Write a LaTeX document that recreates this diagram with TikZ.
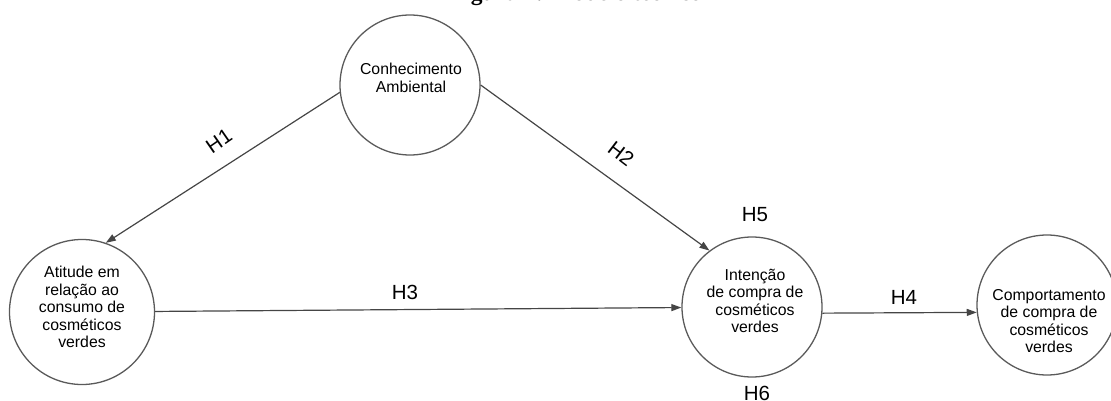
\documentclass[tikz,border=0pt]{standalone}
\usepackage{fontspec}
\setmainfont{Liberation Sans}
\newfontfamily\titlefont{Liberation Serif}
\usetikzlibrary{arrows.meta}
\definecolor{linegray}{HTML}{454545}
\definecolor{circgray}{HTML}{5A5A5A}
\tikzset{
  circ/.style={circle, draw=circgray, line width=1.3pt, minimum size=140pt, inner sep=0pt},
  ntext/.style={align=center, font=\fontsize{15.8}{17.4}\selectfont, inner sep=0pt},
  hlab/.style={font=\fontsize{20.5}{22}\selectfont, inner sep=0pt},
  arr/.style={draw=linegray, line width=1.2pt, -{Triangle[length=10pt,width=7pt]}},
}
\begin{document}
\begin{tikzpicture}[x=1pt,y=-1pt]
\useasboundingbox (0,0) rectangle (1111,401);
\begin{scope}
\clip (0,0) rectangle (1111,401);
\node[font=\titlefont\bfseries\fontsize{23.5}{26}\selectfont, anchor=base, inner sep=0pt] (title) at (576,1) {Figura 1: Modelo teórico};
\end{scope}
% circles
\node[circ] (con) at (410,85) {};
\node[circ, minimum size=145pt] (ati) at (82,312) {};
\node[circ] (int) at (752,307) {};
\node[circ] (comp) at (1047,305) {};
% texts
\node[ntext] (cont) at (411,78) {Conhecimento\\Ambiental};
\node[ntext] (atit) at (82,307) {Atitude em\\relação ao\\consumo de\\cosméticos\\verdes};
\node[ntext] (intt) at (755,301) {Intenção\\de compra de\\cosméticos\\verdes};
\node[ntext] (compt) at (1049,321) {Comportamento\\de compra de\\cosméticos\\verdes};
% connectors
\draw[arr] (con.186) -- (ati.71);
\draw[arr] (con.east) -- (int.127);
\draw[arr] (ati) -- (int);
\draw[arr] (int.-5) -- (comp.186);
% labels
\node[hlab, rotate=34.7] (h1) at (219,141) {H1};
\node[hlab, rotate=-37.4] (h2) at (621,154) {H2};
\node[hlab] (h3) at (405,292) {H3};
\node[hlab] (h4) at (904,297) {H4};
\node[hlab] (h5) at (755,215) {H5};
\begin{scope}
\clip (0,0) rectangle (1111,401);
\node[hlab] (h6) at (757,393) {H6};
\end{scope}
\end{tikzpicture}
\end{document}
